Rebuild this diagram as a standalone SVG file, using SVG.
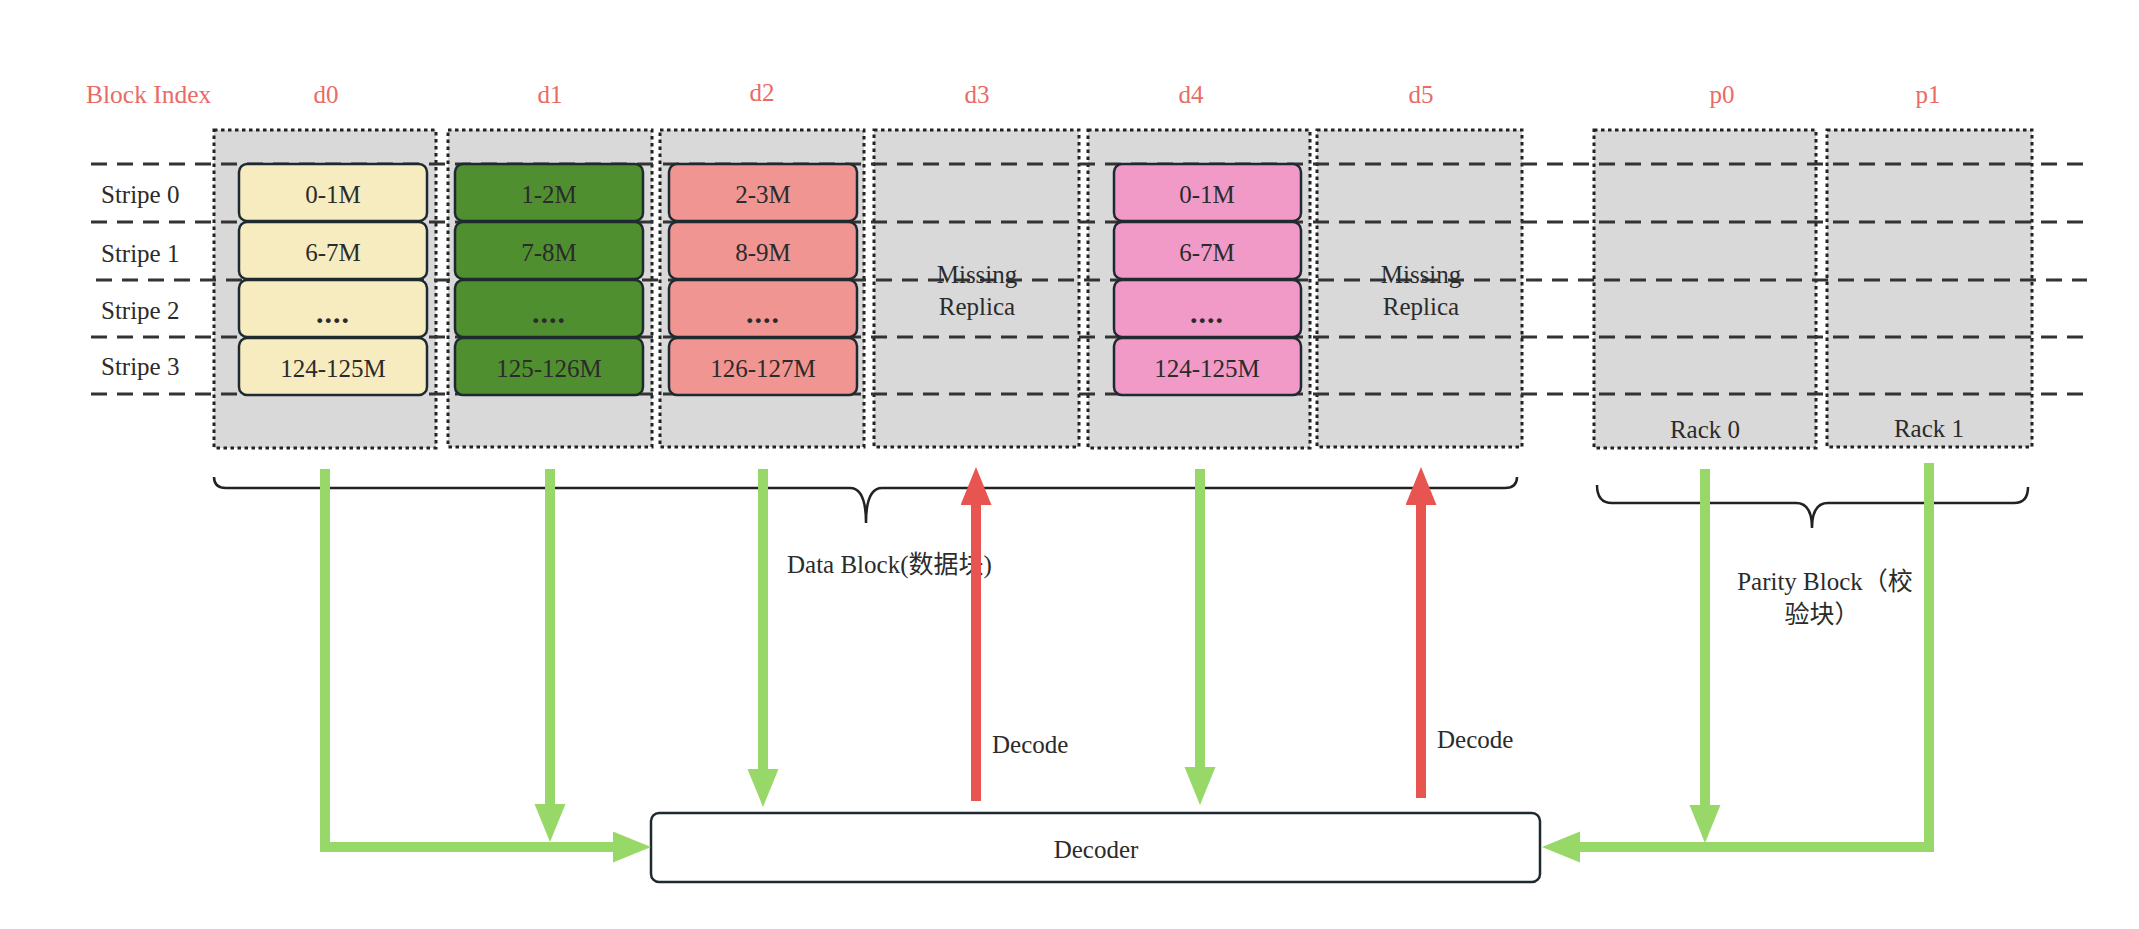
<svg xmlns="http://www.w3.org/2000/svg" width="2139" height="929" viewBox="0 0 2139 929">
<style>
text{font-family:"Liberation Serif","Noto Sans CJK SC",serif;font-size:25px;fill:#2b2b2b}
.idx{fill:#EA6B66;text-anchor:middle}
.c{text-anchor:middle}
.box{fill:#D9D9D9;stroke:#222;stroke-width:3;stroke-dasharray:3.5 3.5}
.cell{stroke:#1f2a30;stroke-width:2.5}
.y{fill:#F6ECC0}.g{fill:#508F2F}.r{fill:#F19592}.p{fill:#F19AC8}
.dots{font-weight:bold;font-size:30px;letter-spacing:1px}
.stripe{fill:none;stroke:#333;stroke-width:3;stroke-dasharray:16 10}
.brace{fill:none;stroke:#222;stroke-width:2.5}
.ga{fill:none;stroke:#97D869;stroke-width:10}
.ra{fill:none;stroke:#E85450;stroke-width:10}
</style>
<defs>
<marker id="gh" markerUnits="userSpaceOnUse" markerWidth="40" markerHeight="32" refX="4" refY="15.5" orient="auto"><path d="M0,0 L38,15.5 L0,31 z" fill="#97D869"/></marker>
<marker id="rh" markerUnits="userSpaceOnUse" markerWidth="40" markerHeight="32" refX="4" refY="15.5" orient="auto"><path d="M0,0 L38,15.5 L0,31 z" fill="#E85450"/></marker>
</defs>

<text id="block-index" x="86" y="103" style="fill:#EA6B66;font-size:25.5px">Block Index</text>

<g id="d0"><text class="idx" x="326" y="103">d0</text><rect class="box" x="214" y="130" width="222" height="318"/></g>
<g id="d1"><text class="idx" x="550" y="103">d1</text><rect class="box" x="448" y="130" width="204" height="317"/></g>
<g id="d2"><text class="idx" x="762" y="101">d2</text><rect class="box" x="660" y="130" width="204" height="317"/></g>
<g id="d3"><text class="idx" x="977" y="103">d3</text><rect class="box" x="874" y="130" width="205" height="317"/></g>
<g id="d4"><text class="idx" x="1191" y="103">d4</text><rect class="box" x="1088" y="130" width="222" height="318"/></g>
<g id="d5"><text class="idx" x="1421" y="103">d5</text><rect class="box" x="1317" y="130" width="205" height="317"/></g>
<g id="p0"><text class="idx" x="1722" y="103">p0</text><rect class="box" x="1594" y="130" width="222" height="318"/></g>
<g id="p1"><text class="idx" x="1928" y="103">p1</text><rect class="box" x="1827" y="130" width="205" height="317"/></g>

<g id="stripes">
<path class="stripe" d="M91,164 H2084 M91,222 H2084 M96,280 H2087 M91,337 H2084 M91,394 H2084"/>
<text x="101" y="203">Stripe 0</text>
<text x="101" y="262">Stripe 1</text>
<text x="101" y="319">Stripe 2</text>
<text x="101" y="375">Stripe 3</text>
</g>

<g id="d0-cells">
<rect class="cell y" x="239" y="164" width="188" height="57" rx="8"/>
<rect class="cell y" x="239" y="222" width="188" height="57" rx="8"/>
<rect class="cell y" x="239" y="280" width="188" height="57" rx="8"/>
<rect class="cell y" x="239" y="338" width="188" height="57" rx="8"/>
<text class="c" x="333" y="203">0-1M</text>
<text class="c" x="333" y="261">6-7M</text>
<text class="c dots" x="333" y="323">....</text>
<text class="c" x="333" y="377">124-125M</text>
</g>
<g id="d1-cells">
<rect class="cell g" x="455" y="164" width="188" height="57" rx="8"/>
<rect class="cell g" x="455" y="222" width="188" height="57" rx="8"/>
<rect class="cell g" x="455" y="280" width="188" height="57" rx="8"/>
<rect class="cell g" x="455" y="338" width="188" height="57" rx="8"/>
<text class="c" x="549" y="203">1-2M</text>
<text class="c" x="549" y="261">7-8M</text>
<text class="c dots" x="549" y="323">....</text>
<text class="c" x="549" y="377">125-126M</text>
</g>
<g id="d2-cells">
<rect class="cell r" x="669" y="164" width="188" height="57" rx="8"/>
<rect class="cell r" x="669" y="222" width="188" height="57" rx="8"/>
<rect class="cell r" x="669" y="280" width="188" height="57" rx="8"/>
<rect class="cell r" x="669" y="338" width="188" height="57" rx="8"/>
<text class="c" x="763" y="203">2-3M</text>
<text class="c" x="763" y="261">8-9M</text>
<text class="c dots" x="763" y="323">....</text>
<text class="c" x="763" y="377">126-127M</text>
</g>
<g id="d3-missing">
<text class="c" x="977" y="283">Missing</text>
<text class="c" x="977" y="315">Replica</text>
</g>
<g id="d4-cells">
<rect class="cell p" x="1114" y="164" width="187" height="57" rx="8"/>
<rect class="cell p" x="1114" y="222" width="187" height="57" rx="8"/>
<rect class="cell p" x="1114" y="280" width="187" height="57" rx="8"/>
<rect class="cell p" x="1114" y="338" width="187" height="57" rx="8"/>
<text class="c" x="1207" y="203">0-1M</text>
<text class="c" x="1207" y="261">6-7M</text>
<text class="c dots" x="1207" y="323">....</text>
<text class="c" x="1207" y="377">124-125M</text>
</g>
<g id="d5-missing">
<text class="c" x="1421" y="283">Missing</text>
<text class="c" x="1421" y="315">Replica</text>
</g>
<g id="racks">
<text class="c" x="1705" y="438">Rack 0</text>
<text class="c" x="1929" y="437">Rack 1</text>
</g>

<g id="data-brace">
<path class="brace" d="M214,477 Q214,488 226,488 L850,488 Q866,488 866,523 Q866,488 882,488 L1505,488 Q1517,488 1517,477"/>
<text x="787" y="573">Data Block(数据块)</text>
</g>
<g id="parity-brace">
<path class="brace" d="M1597,485 Q1597,503 1612,503 L1796,503 Q1812,503 1812,528 Q1812,503 1828,503 L2014,503 Q2028,503 2028,487"/>
<text class="c" x="1825" y="590">Parity Block（校</text>
<text class="c" x="1822" y="623">验块）</text>
</g>

<g id="decoder">
<rect x="651" y="813" width="889" height="69" rx="8" fill="#fff" stroke="#1f2a30" stroke-width="2.5"/>
<text class="c" x="1096" y="858">Decoder</text>
</g>

<g id="connectors">
<path class="ga" d="M325,469 V847 H617" marker-end="url(#gh)"/>
<path class="ga" d="M550,469 V808" marker-end="url(#gh)"/>
<path class="ga" d="M763,469 V773" marker-end="url(#gh)"/>
<path class="ga" d="M1200,469 V771" marker-end="url(#gh)"/>
<path class="ga" d="M1705,469 V809" marker-end="url(#gh)"/>
<path class="ga" d="M1929,463 V847 H1576" marker-end="url(#gh)"/>
<path class="ra" d="M976,801 V501" marker-end="url(#rh)"/>
<path class="ra" d="M1421,798 V501" marker-end="url(#rh)"/>
<text x="992" y="753">Decode</text>
<text x="1437" y="748">Decode</text>
</g>
</svg>
